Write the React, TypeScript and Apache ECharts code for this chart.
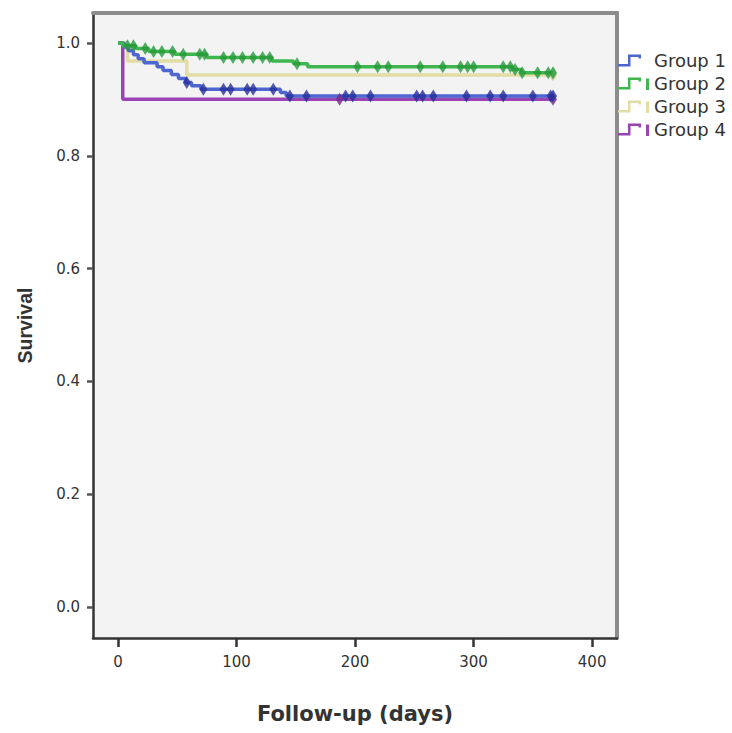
import React, { useEffect, useRef } from "react";
import * as echarts from "echarts";

// ---------- data ----------
const groupNames = ["Group 1", "Group 2", "Group 3", "Group 4"];
const xTicks = [0, 100, 200, 300, 400];
const yTicks = [0, 0.2, 0.4, 0.6, 0.8, 1.0];
const followUpEnd = 367;

// Kaplan-Meier steps: [day, survival after the event]
const group1Steps: [number, number][] = [
  [0, 1], [5, 0.993], [9, 0.986], [13, 0.979], [17, 0.972], [22, 0.965],
  [33, 0.958], [38, 0.951], [45, 0.944], [51, 0.937], [57, 0.93],
  [62, 0.924], [70, 0.918], [137, 0.912], [142, 0.906],
];
const group1Censored = [
  58, 72, 89, 95, 109, 114, 131, 145, 159, 192, 198, 213, 252, 257, 266,
  294, 314, 325, 350, 365, 367,
];
const group2Steps: [number, number][] = [
  [0, 1], [4, 0.995], [15, 0.99], [26, 0.985], [48, 0.98], [75, 0.974],
  [130, 0.968], [148, 0.963], [160, 0.958], [333, 0.953], [340, 0.947],
];
const group2Censored = [
  8, 13, 23, 30, 37, 46, 55, 69, 73, 89, 97, 105, 114, 122, 128, 151, 202,
  219, 228, 255, 274, 289, 295, 300, 325, 331, 335, 341, 354, 363, 367,
];
const group3Steps: [number, number][] = [[0, 1], [8, 0.968], [58, 0.943]];
const group3Censored = [367];
const group4Steps: [number, number][] = [[0, 1], [4, 0.9]];
const group4Censored = [187, 367];

// ---------- styling ----------
const lineColors = ["#4d66d0", "#3fb64e", "#e2dda4", "#9a44b3"];
const markColors = ["#27309a", "#279a3b", "#cdc78a", "#76288e"];
const X_MIN = -21.1;
const X_MAX = 421;
const Y_MIN = -0.0549;
const Y_MAX = 1.0531;

const stepIcon =
  "M0,0 L0.01,0 L0,0.01 Z M31,14 L30.99,14 L31,13.99 Z M0,11 L10,11 L10,1.5 L23,1.5 L23,5.5 L20.5,5.5 L20.5,4 L12.5,4 L12.5,13.5 L0,13.5 Z";
const iconPlain = "path://" + stepIcon;
const iconBar = "path://" + stepIcon + " M28,2.5 L31,2.5 L31,14 L28,14 Z";

function survivalAt(steps: [number, number][], t: number): number {
  let s = steps[0][1];
  for (const [d, v] of steps) {
    if (d <= t) s = v;
  }
  return s;
}

export default function App() {
  const ref = useRef<HTMLDivElement>(null);

  useEffect(() => {
    document.body.style.margin = "0";
    if (!ref.current) return;
    const chart = echarts.init(ref.current, null, { renderer: "svg" });

    const groups = [
      { steps: group1Steps, censored: group1Censored },
      { steps: group2Steps, censored: group2Censored },
      { steps: group3Steps, censored: group3Censored },
      { steps: group4Steps, censored: group4Censored },
    ];
    const drawOrder = [2, 3, 0, 1];
    const series: any[] = [];
    drawOrder.forEach((gi, k) => {
      const g = groups[gi];
      const last = g.steps[g.steps.length - 1][1];
      series.push({
        name: groupNames[gi],
        type: "line",
        step: "end",
        showSymbol: false,
        symbol: "none",
        z: 2 + k,
        color: lineColors[gi],
        lineStyle: { color: lineColors[gi], width: 3.5 },
        data: [...g.steps, [followUpEnd, last]],
        xAxisIndex: 0,
        yAxisIndex: 0,
      });
      series.push({
        name: groupNames[gi] + " censored",
        type: "scatter",
        symbol: "diamond",
        symbolSize: [8, 13],
        z: 10 + k,
        itemStyle: { color: markColors[gi] },
        data: g.censored.map((t) => [t, survivalAt(g.steps, t)]),
        xAxisIndex: 0,
        yAxisIndex: 0,
      });
    });

    const option: any = {
      animation: false,
      backgroundColor: "#ffffff",
      textStyle: { fontFamily: "DejaVu Sans" },
      grid: {
        left: 93,
        right: 115,
        top: 13,
        bottom: 95,
        show: true,
        backgroundColor: "#f3f3f3",
        borderWidth: 0,
      },
      legend: {
        orient: "vertical",
        left: 613,
        top: 46,
        itemWidth: 31,
        itemHeight: 14,
        itemGap: 5,
        selectedMode: false,
        itemStyle: { borderWidth: 0 },
        textStyle: { fontSize: 18, color: "#333", fontFamily: "DejaVu Sans" },
        data: groupNames.map((n, i) => ({ name: n, icon: i === 0 ? iconPlain : iconBar })),
      },
      xAxis: [
        {
          type: "value",
          position: "bottom",
          min: X_MIN,
          max: X_MAX,
          axisLine: { show: true, onZero: false, lineStyle: { color: "#333", width: 2.5 } },
          axisTick: { show: true, customValues: xTicks, length: 9, lineStyle: { color: "#333", width: 2.5 } },
          axisLabel: { customValues: xTicks, margin: 16, fontSize: 15, color: "#333", fontFamily: "DejaVu Sans" },
          splitLine: { show: false },
          name: "Follow-up (days)",
          nameLocation: "middle",
          nameGap: 65,
          nameTextStyle: { fontSize: 21, fontWeight: "bold", color: "#333", fontFamily: "DejaVu Sans" },
        },
        {
          type: "value",
          position: "top",
          min: X_MIN,
          max: X_MAX,
          axisLine: { show: true, onZero: false, lineStyle: { color: "#8c8c8c", width: 4 } },
          axisTick: { show: false },
          axisLabel: { show: false },
          splitLine: { show: false },
        },
      ],
      yAxis: [
        {
          type: "value",
          position: "left",
          min: Y_MIN,
          max: Y_MAX,
          axisLine: { show: true, onZero: false, lineStyle: { color: "#333", width: 2.5 } },
          axisTick: { show: true, customValues: yTicks, length: 6, lineStyle: { color: "#555", width: 2.5 } },
          axisLabel: {
            customValues: yTicks,
            margin: 13,
            fontSize: 15,
            color: "#333",
            fontFamily: "DejaVu Sans",
            formatter: (v: number) => v.toFixed(1),
          },
          splitLine: { show: false },
          name: "Survival",
          nameLocation: "middle",
          nameGap: 58,
          nameTextStyle: { fontSize: 19.5, fontWeight: "bold", color: "#333", fontFamily: "Liberation Sans" },
        },
        {
          type: "value",
          position: "right",
          min: Y_MIN,
          max: Y_MAX,
          axisLine: { show: true, onZero: false, lineStyle: { color: "#8c8c8c", width: 4 } },
          axisTick: { show: false },
          axisLabel: { show: false },
          splitLine: { show: false },
        },
      ],
      series,
    };

    chart.setOption(option);
    return () => chart.dispose();
  }, []);

  return <div ref={ref} style={{ width: 732, height: 733 }} />;
}
